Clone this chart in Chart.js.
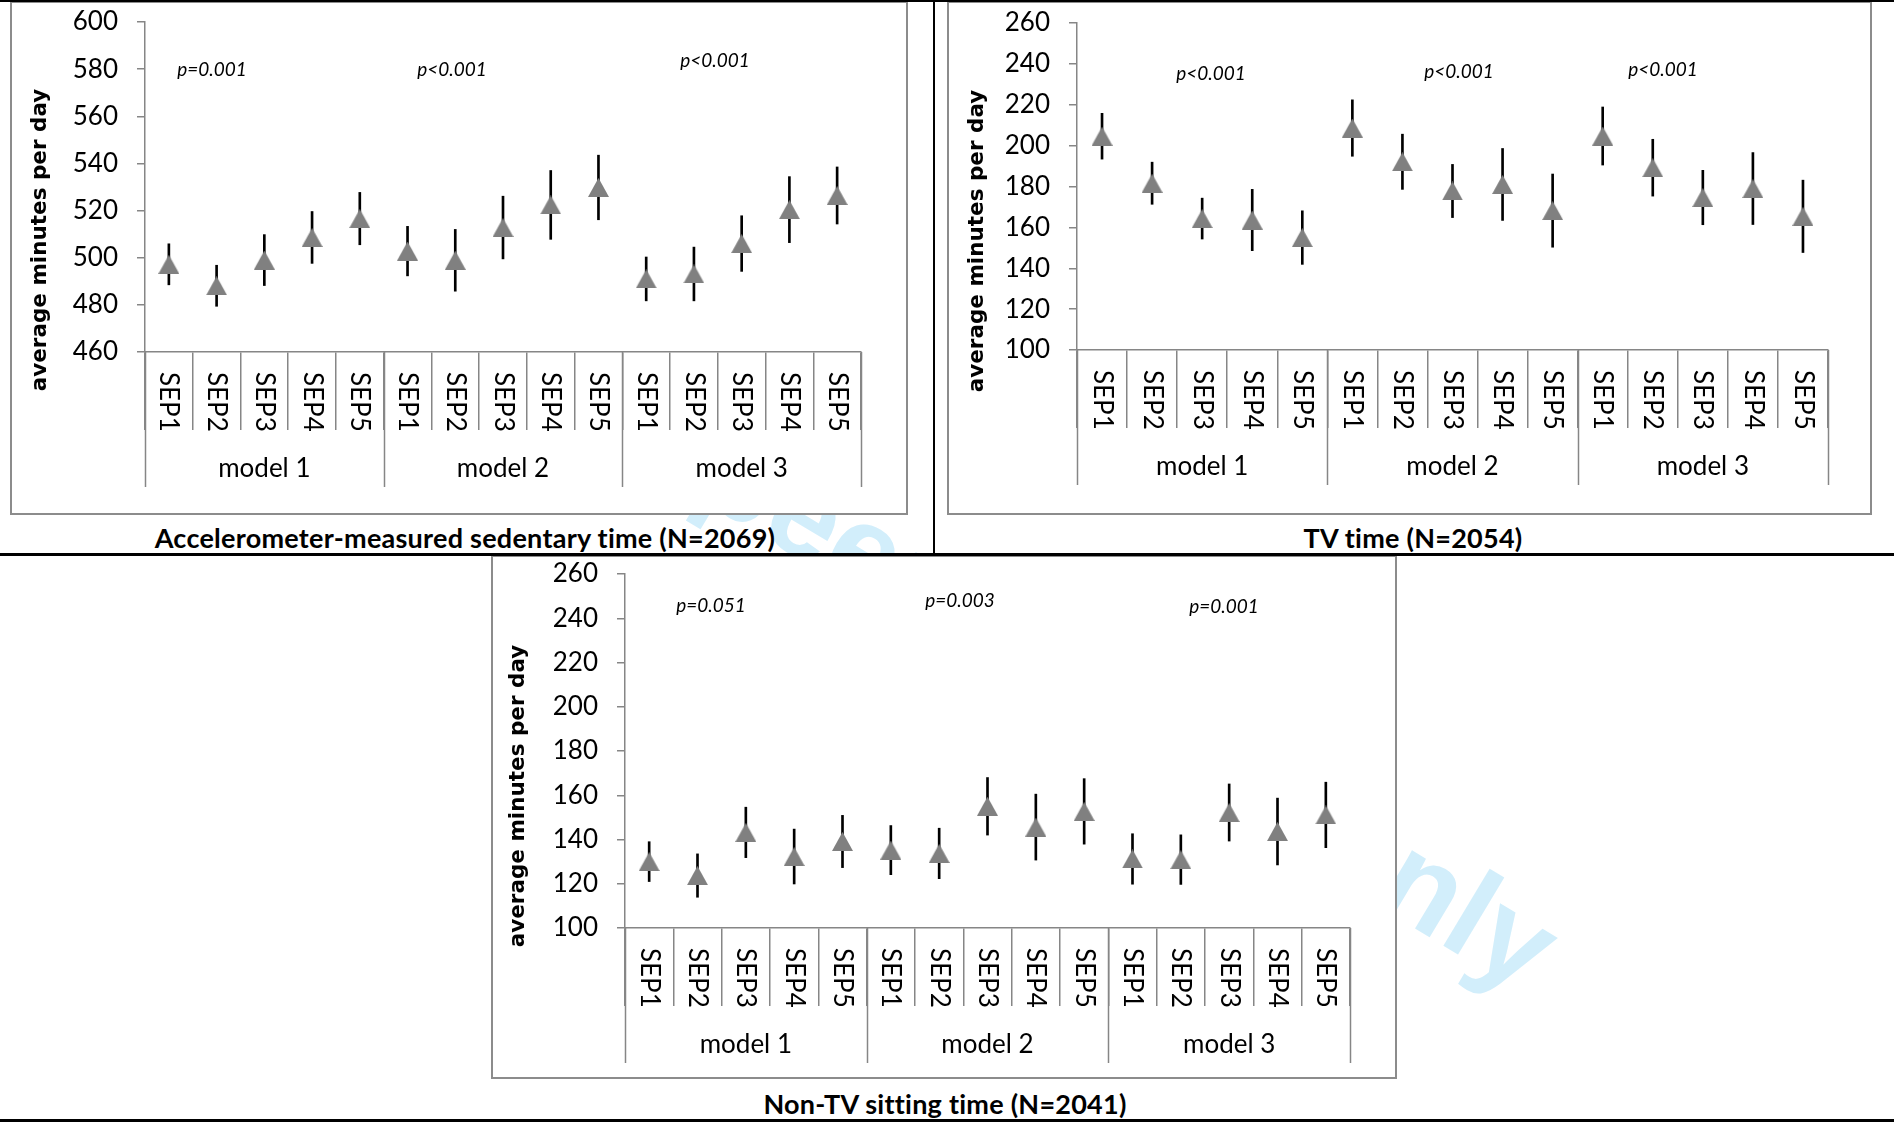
<!DOCTYPE html>
<html>
<head>
<meta charset="utf-8">
<title>Sedentary time by SEP</title>
<script src="https://cdn.jsdelivr.net/npm/chart.js@4.4.1/dist/chart.umd.min.js"></script>
<style>
  html, body { margin: 0; padding: 0; background: #fff; }
  #page { position: relative; width: 1894px; height: 1122px; overflow: hidden; }
  .panel { position: absolute; box-sizing: border-box; border: 2px solid #8c8c8c; background: #fff; }
  .panel canvas { position: absolute; left: 0; top: 0; }
  .rule { position: absolute; background: #000; }
  .caption { position: absolute; transform: translate(-50%, -50%); white-space: nowrap;
             font: bold 27px Lato, sans-serif; letter-spacing: 0.25px; color: #000; }
  .watermark { position: absolute; white-space: nowrap; transform-origin: 50% 50%;
               font: bold 124px "Liberation Sans", Arial, sans-serif; color: #d2eefb; }
</style>
</head>
<body>
<div id="page">
  <div class="watermark" id="wm">For peer review only</div>

  <div class="panel" style="left:10px; top:1px; width:898px; height:514px;">
    <div style="position:relative; width:894px; height:510px;"><canvas id="accelChart"></canvas></div>
  </div>
  <div class="panel" style="left:947px; top:1px; width:925px; height:514px;">
    <div style="position:relative; width:921px; height:510px;"><canvas id="tvChart"></canvas></div>
  </div>
  <div class="panel" style="left:491px; top:555px; width:906px; height:524px;">
    <div style="position:relative; width:902px; height:520px;"><canvas id="sitChart"></canvas></div>
  </div>

  <div class="caption" style="left:465px; top:537px;">Accelerometer-measured sedentary time (N=2069)</div>
  <div class="caption" style="left:1413px; top:537px;">TV time (N=2054)</div>
  <div class="caption" style="left:945px; top:1103px;">Non-TV sitting time (N=2041)</div>

  <div class="rule" style="left:0; top:0; width:1894px; height:2px;"></div>
  <div class="rule" style="left:933px; top:0; width:2px; height:556px;"></div>
  <div class="rule" style="left:0; top:553px; width:1894px; height:3px;"></div>
  <div class="rule" style="left:0; top:1119px; width:1894px; height:3px;"></div>
</div>

<script>
const categories = ['SEP1', 'SEP2', 'SEP3', 'SEP4', 'SEP5',
                    'SEP1', 'SEP2', 'SEP3', 'SEP4', 'SEP5',
                    'SEP1', 'SEP2', 'SEP3', 'SEP4', 'SEP5'];
const models = ['model 1', 'model 2', 'model 3'];
const yTitle = 'average minutes per day';

// accelerometer-measured sedentary time
const accelTicks = [460, 480, 500, 520, 540, 560, 580, 600];
const accelMean = [497.2, 488.1, 499.0, 508.6, 516.6, 502.8, 498.9, 512.8, 522.4, 529.8, 491.0, 493.1, 506.0, 520.4, 526.4];
const accelCI = [8.7, 8.7, 10.8, 11.0, 11.1, 10.5, 13.1, 13.3, 14.6, 13.7, 9.3, 11.4, 11.8, 14.0, 12.1];
const accelP = ['p=0.001', 'p<0.001', 'p<0.001'];

// TV time
const tvTicks = [100, 120, 140, 160, 180, 200, 220, 240, 260];
const tvMean = [204.6, 181.6, 164.3, 163.6, 155.0, 208.6, 192.1, 177.8, 181.0, 168.2, 204.7, 189.2, 174.6, 179.0, 165.4];
const tvCI = [11.2, 10.3, 10.0, 15.0, 13.1, 13.8, 13.5, 13.0, 17.6, 17.9, 14.2, 13.9, 13.3, 17.6, 17.7];
const tvP = ['p<0.001', 'p<0.001', 'p<0.001'];

// non-TV sitting time
const sitTicks = [100, 120, 140, 160, 180, 200, 220, 240, 260];
const sitMean = [130.0, 123.7, 143.2, 132.3, 139.1, 135.2, 133.7, 155.0, 145.6, 152.7, 131.2, 130.9, 152.2, 143.6, 151.1];
const sitCI = [9.0, 9.8, 11.4, 12.4, 11.8, 11.1, 11.4, 13.0, 14.9, 14.8, 11.4, 11.2, 12.9, 15.1, 14.8];
const sitP = ['p=0.051', 'p=0.003', 'p=0.001'];

const AXIS_GREY = '#868686';
const MARKER_GREY = '#808080';

// per-panel geometry in canvas pixels
const layouts = {
    accel: { w: 894, h: 510, left: 133, right: 849, top: 19, bottom: 349, titleX: 34, titleY: 237,
             pPos: [[200, 67], [440, 67], [703, 58]] },
    tv:    { w: 921, h: 510, left: 128, right: 879, top: 20, bottom: 347, titleX: 34, titleY: 238,
             pPos: [[262, 71], [510, 69], [714, 67]] },
    sit:   { w: 902, h: 520, left: 132, right: 857, top: 17, bottom: 371, titleX: 31, titleY: 239,
             pPos: [[218, 49], [467, 44], [731, 50]] }
};

function makeTriangle() {
    const c = document.createElement('canvas');
    c.width = 21;
    c.height = 19;
    const g = c.getContext('2d');
    g.fillStyle = MARKER_GREY;
    g.beginPath();
    g.moveTo(10.5, 0);
    g.lineTo(21, 19);
    g.lineTo(0, 19);
    g.closePath();
    g.fill();
    return c;
}

const decorations = {
    id: 'decorations',
    afterDraw(chart, args, opts) {
        const { ctx, chartArea } = chart;
        const x = chart.scales.x;
        const half = (x.getPixelForValue(1) - x.getPixelForValue(0)) / 2;
        const base = chartArea.bottom;
        ctx.save();

        // long dividers between the model groups
        ctx.strokeStyle = AXIS_GREY;
        ctx.lineWidth = 1.5;
        for (let g = 0; g <= models.length; g++) {
            const px = Math.round(x.getPixelForValue(g * 5) - half) + 0.5;
            ctx.beginPath();
            ctx.moveTo(px, base);
            ctx.lineTo(px, base + 135);
            ctx.stroke();
        }

        // SEP labels, turned to read downwards
        ctx.fillStyle = '#000';
        ctx.font = '26px Lato, sans-serif';
        ctx.textAlign = 'left';
        ctx.textBaseline = 'middle';
        categories.forEach((label, i) => {
            ctx.save();
            ctx.translate(x.getPixelForValue(i), base + 20);
            ctx.rotate(Math.PI / 2);
            ctx.fillText(label, 0, 0);
            ctx.restore();
        });

        // model group labels
        ctx.font = '26px Lato, sans-serif';
        ctx.textAlign = 'center';
        models.forEach((m, g) => {
            const cx = (x.getPixelForValue(g * 5) + x.getPixelForValue(g * 5 + 4)) / 2;
            ctx.fillText(m, cx, base + 117);
        });

        // p values
        ctx.font = 'italic 19px Lato, sans-serif';
        opts.pLabels.forEach((p, g) => {
            ctx.fillText(p, opts.pPos[g][0], opts.pPos[g][1]);
        });

        // y axis title
        ctx.font = 'bold 21.5px "DejaVu Sans", sans-serif';
        ctx.textBaseline = 'alphabetic';
        ctx.translate(opts.titleX, opts.titleY);
        ctx.rotate(-Math.PI / 2);
        ctx.fillText(yTitle, 0, 0);
        ctx.restore();
    }
};

function buildChart(id, lay, mean, ci, ticks, pLabels) {
    const ctx = document.getElementById(id).getContext('2d');
    return new Chart(ctx, {
        type: 'bar',
        data: {
            labels: categories,
            datasets: [
                {
                    type: 'line',
                    data: mean,
                    showLine: false,
                    pointStyle: makeTriangle(),
                    pointRadius: 11,
                    order: 1
                },
                {
                    type: 'bar',
                    data: mean.map((m, i) => [m - ci[i], m + ci[i]]),
                    backgroundColor: '#000',
                    borderWidth: 0,
                    barThickness: 2,
                    order: 2
                }
            ]
        },
        options: {
            responsive: true,
            maintainAspectRatio: false,
            animation: false,
            events: [],
            layout: { padding: { left: 0, right: lay.w - lay.right, top: lay.top, bottom: 0 } },
            plugins: {
                legend: { display: false },
                tooltip: { enabled: false },
                decorations: { pLabels: pLabels, pPos: lay.pPos, titleX: lay.titleX, titleY: lay.titleY }
            },
            scales: {
                x: {
                    type: 'category',
                    offset: true,
                    ticks: { display: false },
                    grid: { drawOnChartArea: false, drawTicks: true, tickLength: 78, offset: true,
                            color: AXIS_GREY, lineWidth: 1.5 },
                    border: { display: true, color: AXIS_GREY, width: 1.5 },
                    afterFit(scale) { scale.height = lay.h - lay.bottom; }
                },
                y: {
                    min: ticks[0],
                    max: ticks[ticks.length - 1],
                    afterBuildTicks(scale) { scale.ticks = ticks.map(v => ({ value: v })); },
                    ticks: { color: '#000', padding: 19, font: { family: 'Lato', size: 26 } },
                    grid: { drawOnChartArea: false, drawTicks: true, tickLength: 8,
                            color: AXIS_GREY, lineWidth: 1.5 },
                    border: { display: true, color: AXIS_GREY, width: 1.5 },
                    afterFit(scale) {
                        // fixed gutter; the label room is already in the layout padding
                        scale.width = lay.left;
                        scale.paddingTop = 0;
                        scale.paddingBottom = 0;
                    }
                }
            }
        },
        plugins: [decorations]
    });
}

function placeWatermark() {
    const wm = document.getElementById('wm');
    const r = wm.getBoundingClientRect();
    wm.style.left = (1030 - r.width / 2) + 'px';
    wm.style.top = (647 - r.height / 2) + 'px';
    wm.style.transform = 'rotate(31deg)';
}

Promise.all([
    document.fonts.load('26px Lato'),
    document.fonts.load('italic 19px Lato'),
    document.fonts.load('bold 27px Lato'),
    document.fonts.load('bold 21px "DejaVu Sans"')
]).catch(() => {}).then(() => {
    placeWatermark();
    buildChart('accelChart', layouts.accel, accelMean, accelCI, accelTicks, accelP);
    buildChart('tvChart', layouts.tv, tvMean, tvCI, tvTicks, tvP);
    buildChart('sitChart', layouts.sit, sitMean, sitCI, sitTicks, sitP);
});
</script>
</body>
</html>
